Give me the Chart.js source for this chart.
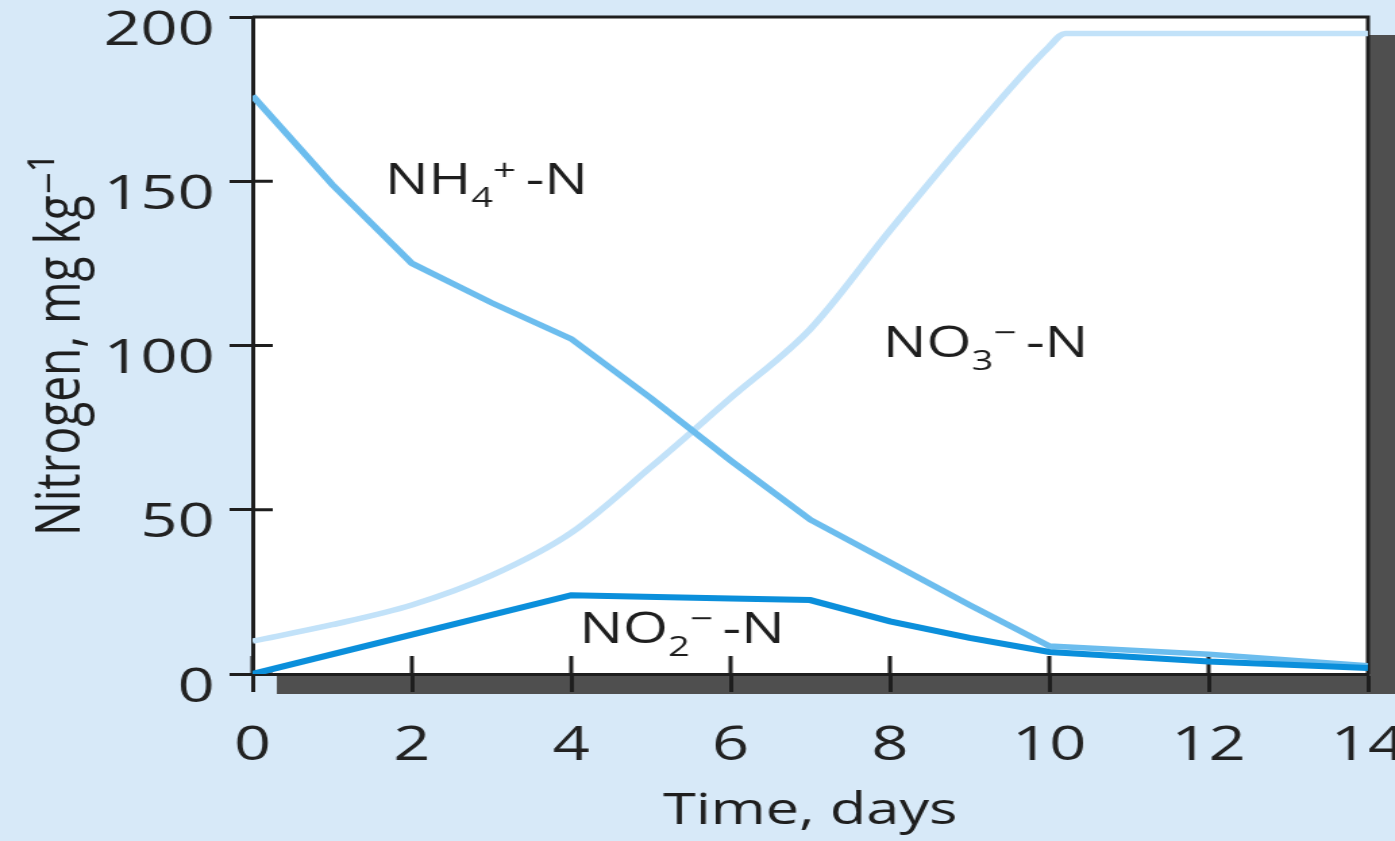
<!DOCTYPE html>
<html>
<head>
<meta charset="utf-8">
<title>Nitrogen over time</title>
<script src="https://cdn.jsdelivr.net/npm/chart.js@4.4.1/dist/chart.umd.min.js"></script>
<style>
  html, body { margin: 0; padding: 0; background: #d7e9f8; overflow: hidden; }
  /* the original figure is stretched sideways, so the chart is drawn narrow and scaled */
  #wrap { width: 1033px; height: 841px; transform: scaleX(1.3504); transform-origin: 0 0; }
</style>
</head>
<body>
<div id="wrap"><canvas id="nChart" width="1033" height="841"></canvas></div>
<script>
// values (days, mg N per kg)
const nh4Days   = [0, 1, 2, 3, 4, 5, 6, 7, 8, 9, 10, 12, 14];
const nh4Values = [176, 149, 125, 113, 102, 84, 65, 47, 34, 21, 8.5, 6, 2.5];

const no3Days   = [0, 1, 2, 3, 4, 5, 6, 7, 8, 9, 10, 10.2, 12, 14];
const no3Values = [10, 15, 21, 30, 43, 63, 84, 105, 135, 164, 191, 195, 195, 195];

const no2Days   = [0, 2, 4, 6, 7, 8, 9, 10, 12, 14];
const no2Values = [0, 12, 24, 23, 22.5, 16, 11, 6.7, 3.8, 1.8];

const xTicks = [0, 2, 4, 6, 8, 10, 12, 14];
const yTicks = [0, 50, 100, 150, 200];

const ink = '#1e1e1e';
const font = '"Open Sans", "DejaVu Sans", sans-serif';

function points(days, values) {
  return days.map((d, i) => ({ x: d, y: values[i] }));
}

// chemical labels inside the plot: [text, kind]
const chemLabels = [
  { day: 1.66, value: 146, parts: [['NH', 'main'], ['4', 'sub'], ['+', 'sup'], ['-N', 'tail']] },
  { day: 7.91, value: 96.5, parts: [['NO', 'main'], ['3', 'sub'], ['\u2212', 'sup'], ['-N', 'tail']] },
  { day: 4.1, value: 9.4, parts: [['NO', 'main'], ['2', 'sub'], ['\u2212', 'sup'], ['-N', 'tail']] }
];

const framePlugin = {
  id: 'frame',
  beforeDraw(chart) {
    const { ctx, chartArea: a, width } = chart;
    ctx.save();
    // drop shadow
    ctx.fillStyle = '#4f4f4f';
    ctx.fillRect(a.left + 18, a.top + 18, width - a.left - 18, a.bottom - a.top + 2);
    // plot area
    ctx.fillStyle = '#ffffff';
    ctx.fillRect(a.left, a.top, a.right - a.left, a.bottom - a.top);
    ctx.restore();
  },
  beforeDatasetsDraw(chart) {
    const { ctx, chartArea: a, scales } = chart;
    ctx.save();
    ctx.strokeStyle = ink;
    ctx.lineWidth = 3;
    ctx.beginPath();
    ctx.moveTo(a.left, a.top);
    ctx.lineTo(a.right, a.top);
    ctx.lineTo(a.right, a.bottom);
    // tick marks cross the axes, inner half here
    xTicks.forEach(v => {
      const px = scales.x.getPixelForValue(v);
      ctx.moveTo(px, a.bottom);
      ctx.lineTo(px, a.bottom - 18);
    });
    yTicks.forEach(v => {
      const py = scales.y.getPixelForValue(v);
      ctx.moveTo(a.left, py);
      ctx.lineTo(a.left + 15, py);
    });
    ctx.stroke();
    ctx.restore();
  },
  afterDatasetsDraw(chart) {
    const { ctx, scales } = chart;
    ctx.save();
    ctx.fillStyle = ink;
    ctx.textBaseline = 'alphabetic';
    ctx.textAlign = 'left';
    chemLabels.forEach(lbl => {
      let x = scales.x.getPixelForValue(lbl.day);
      const y = scales.y.getPixelForValue(lbl.value);
      lbl.parts.forEach(([t, kind]) => {
        let dy = 0;
        if (kind === 'sub') { ctx.font = '28px ' + font; dy = 13; }
        else if (kind === 'sup') { ctx.font = '30px ' + font; dy = -14; }
        else { ctx.font = '43px ' + font; }
        if (kind === 'tail') x += 7;
        ctx.fillText(t, x, y + dy);
        x += ctx.measureText(t).width;
      });
    });
    ctx.restore();
  }
};

new Chart(document.getElementById('nChart'), {
  type: 'line',
  data: {
    datasets: [
      {
        label: 'NO2- -N',
        data: points(no2Days, no2Values),
        borderColor: '#0b8fdb',
        borderWidth: 6,
        pointRadius: 0,
        tension: 0
      },
      {
        label: 'NH4+ -N',
        data: points(nh4Days, nh4Values),
        borderColor: '#6cbdee',
        borderWidth: 5.5,
        pointRadius: 0,
        tension: 0
      },
      {
        label: 'NO3- -N',
        data: points(no3Days, no3Values),
        borderColor: '#c2e2f9',
        borderWidth: 5.5,
        pointRadius: 0,
        cubicInterpolationMode: 'monotone'
      }
    ]
  },
  options: {
    responsive: false,
    devicePixelRatio: 1,
    animation: false,
    layout: { padding: { top: 17, right: 20, left: 0, bottom: 0 } },
    plugins: {
      legend: { display: false },
      tooltip: { enabled: false }
    },
    scales: {
      x: {
        type: 'linear',
        min: 0,
        max: 14,
        afterBuildTicks: s => { s.ticks = xTicks.map(v => ({ value: v })); },
        afterFit: s => { s.height = 167; s.paddingLeft = 0; s.paddingRight = 0; },
        grid: { drawOnChartArea: false, drawTicks: true, tickLength: 18, tickWidth: 3, tickColor: ink },
        border: { color: ink, width: 3 },
        ticks: { font: { family: font, size: 48 }, color: '#222', padding: 26, maxRotation: 0 },
        title: { display: true, text: 'Time, days', font: { family: font, size: 44 }, color: ink, padding: { top: 0, bottom: 3 } }
      },
      y: {
        min: 0,
        max: 200,
        afterBuildTicks: s => { s.ticks = yTicks.map(v => ({ value: v })); },
        afterFit: s => { s.width = 187; s.paddingTop = 0; s.paddingBottom = 0; },
        grid: { drawOnChartArea: false, drawTicks: true, tickLength: 17, tickWidth: 3, tickColor: ink },
        border: { color: ink, width: 3 },
        ticks: { font: { family: font, size: 48 }, color: '#222', padding: 11, labelOffset: 14 },
        title: { display: true, text: 'Nitrogen, mg kg\u207B\u00B9', font: { family: font, size: 46 }, color: ink, padding: { top: 18, bottom: 0 } }
      }
    }
  },
  plugins: [framePlugin]
});
</script>
</body>
</html>
